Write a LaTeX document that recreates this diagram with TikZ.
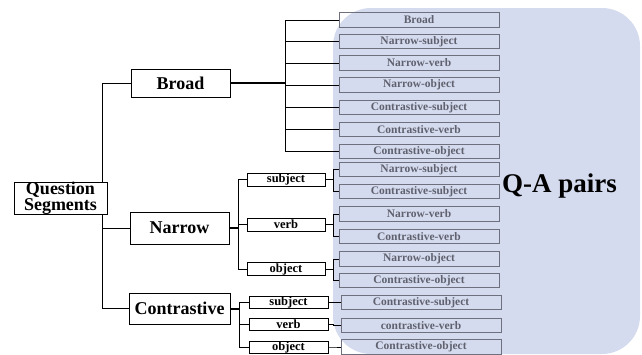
\documentclass[tikz,border=0pt]{standalone}
\usepackage{fontspec}
\setmainfont{Liberation Serif}[BoldFont={Liberation Serif Bold}]
\newfontfamily\tb{Liberation Serif Bold}
\definecolor{bgc}{RGB}{213,219,238}
\definecolor{rbord}{RGB}{110,112,125}
\definecolor{rtext}{RGB}{95,97,110}
\tikzset{
  main/.style={draw=black, line width=1pt, inner sep=0pt, font=\tb\fontsize{18}{16}\selectfont, align=center},
  sub/.style={draw=black, line width=1pt, inner sep=0pt, minimum width=78pt, minimum height=13pt, font=\tb\fontsize{12.5}{13}\selectfont},
  pair/.style={draw=rbord, line width=0.9pt, inner sep=0pt, minimum width=160pt, minimum height=14.5pt, text=rtext, font=\tb\fontsize{11.5}{12}\selectfont},
  conn/.style={line width=0.9pt},
  thk/.style={line width=2pt}
}
\begin{document}
\begin{tikzpicture}[x=1pt,y=-1pt]
\useasboundingbox (0,0) rectangle (642,354);
\fill[bgc, rounded corners=38pt] (333,8) rectangle (640,354);
% main nodes
\node[main, minimum width=93pt, minimum height=29pt] (qs) at (60.5,198.5) {Question\\Segments};
\node[main, minimum width=99pt, minimum height=28pt] (broad) at (180.5,83) {Broad};
\node[main, minimum width=99pt, minimum height=32pt] (narrow) at (179.5,228) {Narrow};
\node[main, minimum width=101pt, minimum height=31pt] (contr) at (179.5,308.5) {Contrastive};
% narrow subs
\node[sub] (ns) at (286,179.5) {subject};
\node[sub] (nv) at (286,224.5) {verb};
\node[sub] (no) at (286,269) {object};
% contrastive subs
\node[sub, minimum width=79pt, minimum height=12pt] (cs) at (288.5,302) {subject};
\node[sub, minimum width=79pt, minimum height=12pt] (cv) at (288.5,324) {verb};
\node[sub, minimum width=79pt, minimum height=12pt] (co) at (288.5,347) {object};
% broad column
\node[pair] (b1) at (419,20) {Broad};
\node[pair] (b2) at (419,41.5) {Narrow-subject};
\node[pair] (b3) at (419,63) {Narrow-verb};
\node[pair] (b4) at (419,85) {Narrow-object};
\node[pair] (b5) at (419,107.5) {Contrastive-subject};
\node[pair] (b6) at (419,129.5) {Contrastive-verb};
\node[pair] (b7) at (419,151.5) {Contrastive-object};
% narrow column
\node[pair] (n1) at (419,169.5) {Narrow-subject};
\node[pair] (n2) at (419,191.5) {Contrastive-subject};
\node[pair] (n3) at (419,214) {Narrow-verb};
\node[pair] (n4) at (419,236.5) {Contrastive-verb};
\node[pair] (n5) at (419,259) {Narrow-object};
\node[pair] (n6) at (419,280.5) {Contrastive-object};
% contrastive column
\node[pair] (c1) at (421,302.5) {Contrastive-subject};
\node[pair] (c2) at (421,325.5) {contrastive-verb};
\node[pair] (c3) at (421,347) {Contrastive-object};
% label
\node[anchor=base west, inner sep=0pt, font=\tb\fontsize{27}{27}\selectfont] (qa) at (502,192) {Q-A pairs};
% trunk connectors
\coordinate (qt) at (102,0);
\draw[conn] (broad.west) -| (qs.north -| qt);
\draw[conn] (qs.south -| qt) |- (narrow.west);
\draw[conn] (qs.south -| qt) |- (contr.west);
% broad
\coordinate (bx) at (285,0);
\draw[thk] (broad.east) -- (broad.east -| bx);
\foreach \r in {b1,b2,b3,b4,b5,b6,b7}{
  \draw[conn] (broad.east -| bx) |- (\r.west);
}
% narrow
\coordinate (nx) at (238,0);
\draw[thk] (narrow.east) -- (narrow.east -| nx);
\foreach \s in {ns,nv,no}{
  \draw[conn] (narrow.east -| nx) |- (\s.west);
}
\coordinate (px) at (333,0);
\draw[conn] (ns.east) -- (ns.east -| px);
\draw[conn] (ns.east -| px) |- (n1.west);
\draw[conn] (ns.east -| px) |- (n2.west);
\draw[conn] (nv.east) -- (nv.east -| px);
\draw[conn] (nv.east -| px) |- (n3.west);
\draw[conn] (nv.east -| px) |- (n4.west);
\draw[conn] (no.east) -- (no.east -| px);
\draw[conn] (no.east -| px) |- (n5.west);
\draw[conn] (no.east -| px) |- (n6.west);
% contrastive
\coordinate (cx) at (239,0);
\draw[thk] (contr.east) -- (contr.east -| cx);
\foreach \s in {cs,cv,co}{
  \draw[conn] (contr.east -| cx) |- (\s.west);
}
\draw[conn] (cs.east) -- ++(5,0) |- (c1.west);
\draw[conn] (cv.east) -- ++(5,0) |- (c2.west);
\draw[conn] (co.east) -- ++(5,0) |- (c3.west);
\end{tikzpicture}
\end{document}
